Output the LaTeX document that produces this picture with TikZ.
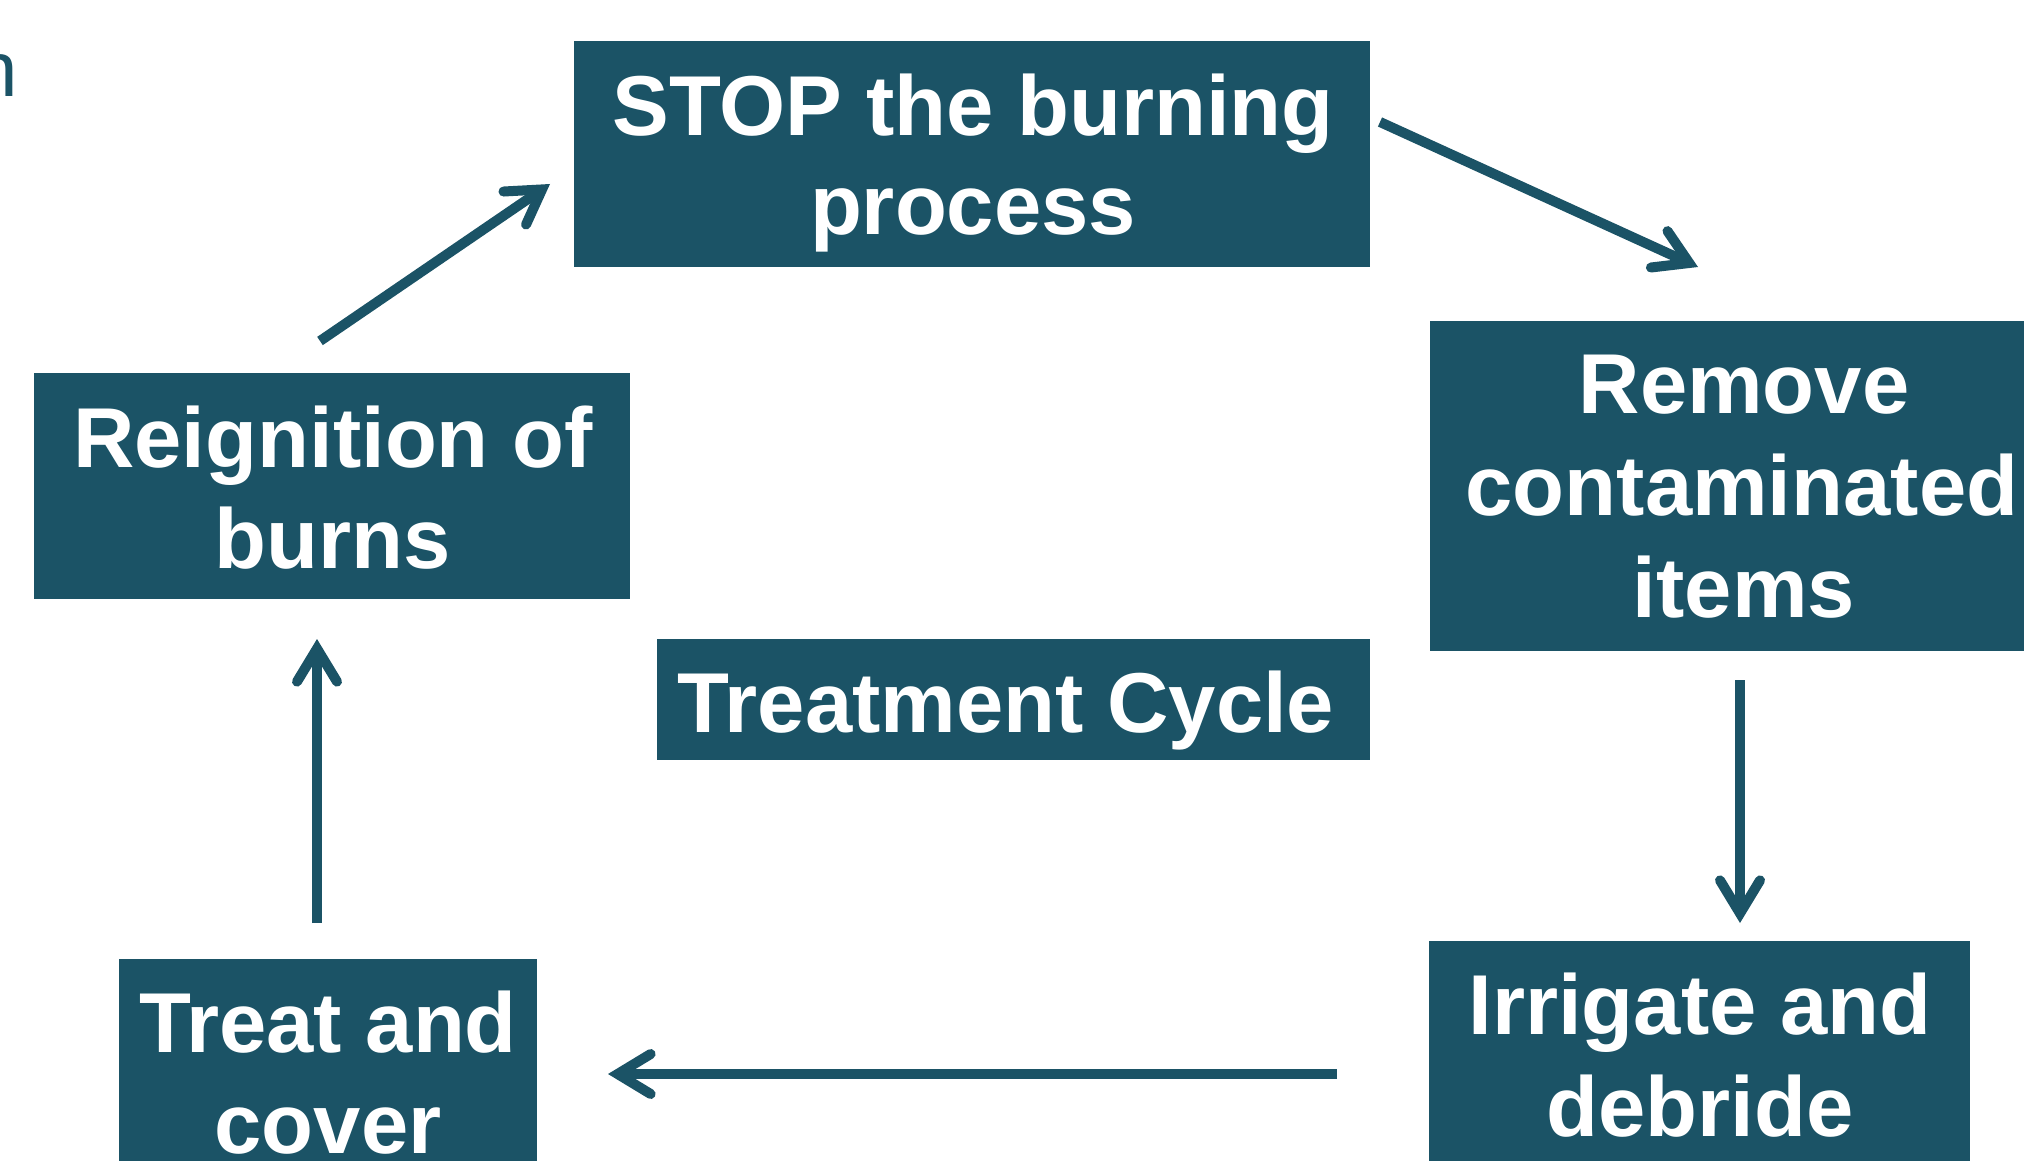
\documentclass[tikz,border=0pt]{standalone}
\usepackage{fontspec}
\setmainfont{Liberation Sans}
\usetikzlibrary{arrows.meta}
\definecolor{tealbox}{RGB}{27,83,102}
\begin{document}
\begin{tikzpicture}[x=1pt,y=-1pt,
  box/.style={fill=tealbox, draw=none, inner sep=0pt, rectangle},
  lbl/.style={text=white, font=\fontsize{85}{100}\selectfont\bfseries, anchor=base, inner sep=0pt},
  arr/.style={draw=tealbox, line width=10pt, -{Straight Barb[length=33pt,width=40pt,line cap=round]}}]
\useasboundingbox (0,0) rectangle (2024,1161);
\begin{scope}
\clip (0,0) rectangle (2024,1161);
% top-left cut-off letter
\node[text=tealbox, font=\fontsize{78}{90}\selectfont, anchor=base east, inner sep=0pt] (frag) at (18,97) {n};
% boxes
\node[box, minimum width=796pt, minimum height=226pt] (stop) at (972,154) {};
\node[box, minimum width=630pt, minimum height=330pt] (remove) at (1745,486) {};
\node[box, minimum width=596pt, minimum height=226pt] (reign) at (332,486) {};
\node[box, minimum width=713pt, minimum height=121pt] (cycle) at (1013.5,699.5) {};
\node[box, minimum width=418pt, minimum height=240pt] (treat) at (328,1079) {};
\node[box, minimum width=541pt, minimum height=260pt] (irr) at (1699.5,1071) {};
% labels
\node[lbl] (stop1) at (973,135.5) {STOP the burning};
\node[lbl] (stop2) at (973,234) {process};
\node[lbl] (rem1) at (1744,413) {Remove};
\node[lbl] (rem2) at (1742,515) {contaminated};
\node[lbl] (rem3) at (1744,617) {items};
\node[lbl] (reign1) at (333,467) {Reignition of};
\node[lbl] (reign2) at (333,568) {burns};
\node[lbl] (cyc1) at (1006,732) {Treatment Cycle};
\node[lbl] (treat1) at (328,1052) {Treat and};
\node[lbl] (treat2) at (328,1153) {cover};
\node[lbl] (irr1) at (1700,1034) {Irrigate and};
\node[lbl] (irr2) at (1700,1136) {debride};
% connectors
\coordinate (a1s) at (320,341); \coordinate (a1e) at (550,184);
\coordinate (a2s) at (1380,122); \coordinate (a2e) at (1698,267);
\coordinate (a3s) at (1740,680); \coordinate (a3e) at (1740,923);
\coordinate (a4s) at (1337,1074); \coordinate (a4e) at (608,1074);
\coordinate (a5s) at (317,923); \coordinate (a5e) at (317,639);
\draw[arr] (a1s) -- (a1e);
\draw[arr] (a2s) -- (a2e);
\draw[arr] (a3s) -- (a3e);
\draw[arr] (a4s) -- (a4e);
\draw[arr] (a5s) -- (a5e);
\end{scope}
\end{tikzpicture}
\end{document}
